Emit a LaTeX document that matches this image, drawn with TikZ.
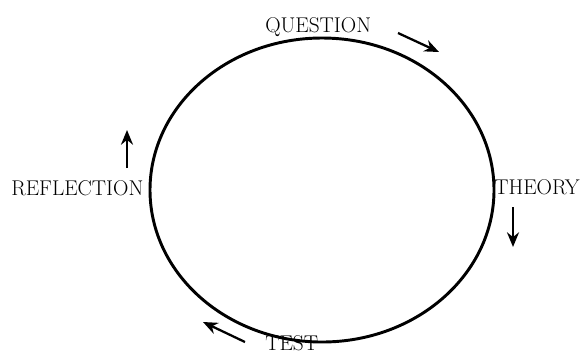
\documentclass[tikz,border=0pt]{standalone}
\usetikzlibrary{arrows.meta}

\tikzset{
  cyclelabel/.style={anchor=north west,inner sep=0.75pt,font=\fontsize{16}{18}\selectfont},
  flowarrow/.style={line width=1.7pt,-{Stealth[length=11pt,width=9pt]}}
}

\begin{document}
\begin{tikzpicture}[x=0.75pt,y=0.75pt,yscale=-1,xscale=1]
%set diagram left start at 0, and has height of 355
\path (0,0) rectangle (584,355);

%Shape: Ellipse [id:cycle]
\draw [line width=2.2pt] (322,190) ellipse [x radius=172, y radius=152];

% Text Node
\node[cyclelabel] (question) at (264,16) {QUESTION};
% Text Node
\node[cyclelabel] (theory) at (493,178) {THEORY};
% Text Node
\node[cyclelabel] (test) at (264,334) {TEST};
% Text Node
\node[cyclelabel] (reflection) at (10,179) {REFLECTION};

% Arrow ends
\coordinate (qa) at (398,33);
\coordinate (qb) at (439,52);
\coordinate (ta) at (513,207);
\coordinate (tb) at (513,247);
\coordinate (sa) at (245,342);
\coordinate (sb) at (203,322);
\coordinate (ra) at (127,168);
\coordinate (rb) at (127,130);

%Straight Lines [id:arrows]
\draw [flowarrow] (qa) -- (qb);
\draw [flowarrow] (ta) -- (tb);
\draw [flowarrow] (sa) -- (sb);
\draw [flowarrow] (ra) -- (rb);

\end{tikzpicture}
\end{document}
